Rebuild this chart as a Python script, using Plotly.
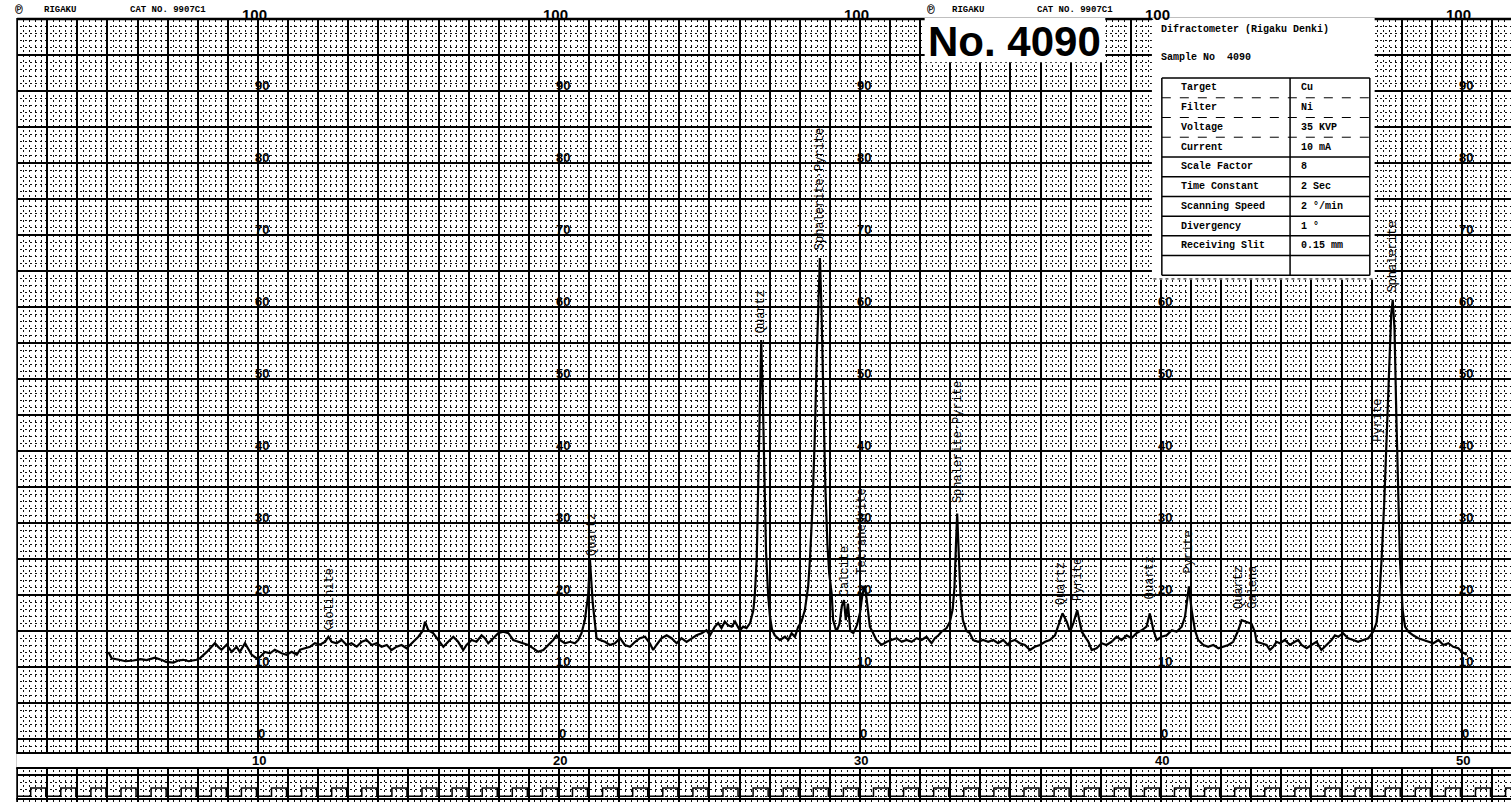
import plotly.graph_objects as go

# ---- trace: 2-theta (deg, Cu K-alpha) and intensity (chart units) ----
two_theta = [
    5.03, 5.14, 5.42, 5.6, 5.86, 6.1, 6.30, 6.58, 6.85, 6.95, 7.19, 7.35, 7.52, 7.7, 7.96,
    8.07, 8.30, 8.57, 8.68, 8.79, 8.96, 9.13, 9.29, 9.40, 9.57, 9.68, 9.79, 9.96,
    10.07, 10.23, 10.40, 10.56, 10.79, 10.95, 11.12, 11.29, 11.40, 11.56, 11.73, 11.89,
    12.06, 12.23, 12.34, 12.45, 12.61, 12.78, 12.95, 13.11, 13.28, 13.45, 13.61, 13.78,
    13.94, 14.11, 14.28, 14.44, 14.61, 14.77, 14.94,
    15.16, 15.33, 15.49, 15.55, 15.66, 15.82, 15.99, 16.16, 16.32, 16.49, 16.65, 16.82,
    16.93, 17.10, 17.26, 17.43, 17.54, 17.65, 17.82, 17.98, 18.15, 18.32, 18.48, 18.65,
    18.81, 18.98, 19.15, 19.31, 19.48, 19.65, 19.81, 19.92, 20.03, 20.20, 20.37, 20.53,
    20.64, 20.75, 20.86, 20.97, 21.03, 21.12, 21.19, 21.25, 21.36, 21.53, 21.69, 21.86,
    22.03, 22.19, 22.36, 22.53, 22.69, 22.86, 23.02, 23.13, 23.24, 23.41, 23.58, 23.74,
    23.91, 24.07, 24.24, 24.41, 24.57, 24.74, 24.90,
    25.02, 25.18, 25.29, 25.40, 25.51, 25.62, 25.74, 25.85, 26.01, 26.12, 26.23, 26.35,
    26.46, 26.51, 26.57, 26.62, 26.67, 26.72, 26.77, 26.82, 26.88, 26.95, 27.01, 27.08,
    27.17, 27.34, 27.51, 27.62, 27.73, 27.84, 27.95, 28.06, 28.17, 28.28, 28.34, 28.42,
    28.50, 28.57, 28.63, 28.67, 28.72, 28.78, 28.85, 28.92, 28.98, 29.06, 29.11, 29.22,
    29.32, 29.40, 29.47, 29.53, 29.60, 29.68, 29.78, 29.90, 30.00, 30.08, 30.15, 30.22,
    30.28, 30.33, 30.44, 30.55, 30.72, 30.89, 31.05, 31.22, 31.39, 31.55, 31.72, 31.88,
    32.05, 32.21, 32.38, 32.49, 32.61, 32.71, 32.88, 32.99, 33.08, 33.14, 33.19, 33.23,
    33.28, 33.34, 33.42, 33.54, 33.65, 33.76, 33.93, 34.09, 34.26, 34.43, 34.59, 34.76,
    34.92,
    34.98, 35.15, 35.31, 35.48, 35.65, 35.81, 35.98, 36.15, 36.31, 36.48, 36.64, 36.73,
    36.87, 36.98, 37.09, 37.22, 37.37, 37.48, 37.59, 37.70, 37.86, 38.03, 38.19, 38.36,
    38.53, 38.69, 38.86, 39.02, 39.19, 39.36, 39.52, 39.63, 39.75, 39.86, 40.02, 40.19,
    40.36, 40.52, 40.69, 40.80, 40.88, 40.93, 41.02, 41.13, 41.24, 41.41, 41.57, 41.74,
    41.91, 42.07, 42.24, 42.40, 42.57, 42.68, 42.84, 43.01, 43.12, 43.18,
    43.34, 43.51, 43.62, 43.73, 43.84, 43.95, 44.12, 44.28, 44.45, 44.56, 44.67, 44.84,
    45.00, 45.17, 45.33, 45.50, 45.67, 45.78, 45.89, 46.05, 46.22, 46.39, 46.55, 46.72,
    46.89, 47.05, 47.16, 47.25, 47.33, 47.42, 47.50, 47.58, 47.65, 47.70, 47.76, 47.82,
    47.88, 47.94, 48.03, 48.11, 48.22, 48.38, 48.55, 48.72, 48.88, 49.05, 49.22, 49.38,
    49.55, 49.71, 49.88, 49.99, 50.08, 50.16,
]
intensity = [
    12.1, 11.2, 10.97, 10.8, 10.9, 11.1, 10.97, 11.3, 10.9, 10.7, 10.6, 10.9, 11.0, 10.8, 11.0,
    11.2, 12.1, 13.3, 12.8, 12.4, 13.1, 12.1, 12.8, 12.1, 13.3, 12.4, 11.7, 11.2,
    11.4, 12.1, 11.9, 12.4, 11.9, 11.7, 12.1, 11.7, 12.4, 12.6, 12.8, 13.3,
    13.1, 13.5, 14.2, 13.5, 13.3, 13.75, 13.06, 13.29, 12.82, 13.52, 13.75, 13.06,
    13.29, 12.82, 13.06, 12.36, 12.82, 13.06, 12.6,
    13.5, 14.2, 15.1, 16.3, 15.1, 14.7, 13.75, 12.8, 13.5, 14.2, 13.5, 12.36,
    13.06, 13.75, 13.5, 14.4, 14.0, 13.3, 14.0, 14.7, 14.9, 14.7, 13.75, 13.5,
    13.3, 13.06, 12.6, 12.1, 12.36, 13.06, 13.75, 14.4, 13.75, 13.3, 13.5, 13.3,
    13.75, 14.7, 16.5, 20.0, 24.9, 19.0, 16.0, 14.0, 13.75, 13.5, 13.06, 13.3,
    14.0, 13.06, 12.8, 13.5, 14.0, 14.2, 13.3, 12.36, 13.06, 14.0, 14.4, 14.0,
    13.3, 14.0, 13.5, 14.0, 14.4, 14.7, 15.1,
    14.4, 15.6, 16.1, 15.4, 16.3, 15.8, 15.6, 16.3, 15.1, 15.6, 15.4, 16.1,
    17.9, 20.2, 25.0, 34.0, 46.0, 55.4, 48.0, 36.0, 26.0, 20.0, 17.0, 15.2,
    14.4, 13.75, 14.2, 13.75, 14.7, 14.2, 15.6, 16.3, 17.9, 21.2, 25.0, 32.0,
    42.0, 54.0, 64.0, 66.8, 60.0, 46.0, 35.0, 27.0, 23.0, 20.2, 16.5, 14.9,
    16.0, 18.5, 19.3, 16.5, 18.8, 15.0, 14.7, 15.8, 17.5, 20.0, 21.3, 19.5,
    17.0, 15.6, 14.7, 13.75, 13.06, 13.5, 13.75, 14.0, 13.5, 13.75, 13.5, 14.0,
    13.75, 14.2, 13.3, 14.0, 14.4, 14.9, 15.4, 16.3, 18.0, 21.0, 27.0, 31.3,
    26.0, 20.0, 16.5, 15.0, 14.7, 13.75, 13.5, 13.75, 13.5, 13.75, 13.3, 13.75,
    13.06,
    13.5, 13.75, 13.3, 13.06, 12.36, 12.8, 13.06, 13.5, 13.75, 14.4, 16.3, 17.45,
    16.3, 14.9, 16.1, 17.9, 14.9, 14.2, 13.5, 12.36, 12.6, 13.3, 13.06, 13.5,
    14.2, 13.75, 14.4, 14.0, 14.7, 15.1, 15.6, 17.45, 15.1, 13.75, 14.2, 14.4,
    15.1, 14.9, 15.6, 17.0, 19.3, 21.2, 17.9, 15.1, 13.75, 13.06, 12.8, 13.06,
    12.6, 12.8, 13.06, 13.5, 15.1, 16.5, 16.3, 16.0, 14.9, 13.5,
    13.3, 13.06, 12.36, 12.8, 13.5, 13.3, 13.75, 13.06, 13.5, 13.75, 13.06, 12.6,
    13.06, 13.5, 12.36, 13.06, 13.75, 14.4, 14.2, 14.7, 14.0, 13.75, 13.5, 13.75,
    14.0, 14.9, 16.1, 19.3, 24.9, 33.0, 43.0, 53.0, 59.0, 61.0, 57.0, 45.0,
    33.0, 24.9, 17.9, 15.6, 14.9, 14.4, 14.0, 13.75, 13.5, 13.3, 13.75, 13.06,
    13.3, 12.8, 12.6, 12.1, 11.9, 11.7,
]

# ---- peak identifications written on the chart ----
label_text = ["Kaolinite", "Quartz", "Quartz", "Sphalerite·Pyrite", "Calcite", "Tetrahedrite",
              "Sphalerite·Pyrite", "Quartz", "Pyrite", "Quartz", "Pyrite", "Quartz", "Galena",
              "Pyrite", "Sphalerite"]
label_x = [12.39, 21.08, 26.72, 28.66, 29.50, 30.07, 33.24, 36.70, 37.24, 39.62, 40.90,
           42.60, 43.06, 47.20, 47.71]
label_y = [19.3, 28.4, 59.3, 76.3, 23.3, 28.8, 41.3, 21.6, 22.2, 22.4, 25.9, 21.0, 21.0,
           44.3, 67.0]

# ---- chart-paper printing ----
scale_columns = [10, 20, 30, 40, 50]
scale_values = [0, 10, 20, 30, 40, 50, 60, 70, 80, 90]
top_value = "100"
angle_labels = ["10", "20", "30", "40", "50"]
header_left = ["℗", "RIGAKU", "CAT NO. 9907C1"]
header_left_x = [2.05, 3.42, 7.01]
header_right_x = [32.36, 33.59, 37.14]

# ---- instrument card ----
table_params = ["Target", "Filter", "Voltage", "Current", "Scale Factor", "Time Constant",
                "Scanning Speed", "Divergency", "Receiving Slit", ""]
table_values = ["Cu", "Ni", "35 KVP", "10 mA", "8", "2 Sec", "2 °/min", "1 °", "0.15 mm", ""]
card_title = "Difractometer (Rigaku Denki)"
card_sample = "Sample No  4090"
sample_tag = "No. 4090"

X0, X1 = 1.43, 51.63
Y0, Y1 = -8.75, 102.64

fig = go.Figure()

fig.add_trace(go.Scatter(x=two_theta, y=intensity, mode="lines",
                         line=dict(color="black", width=2.2), hoverinfo="skip"))

shapes = []
# white margins of the paper
shapes.append(dict(type="rect", xref="x", yref="y", x0=X0, x1=X1, y0=100.15, y1=Y1,
                   fillcolor="white", line=dict(width=0), layer="above"))
shapes.append(dict(type="rect", xref="x", yref="y", x0=X0, x1=1.97, y0=Y0, y1=Y1,
                   fillcolor="white", line=dict(width=0), layer="above"))
# bottom strip
shapes.append(dict(type="rect", xref="x", yref="y", x0=1.97, x1=X1, y0=-4.03, y1=-1.94,
                   fillcolor="white", line=dict(width=0), layer="above"))
for yy in (-1.94, -4.03, -8.35):
    shapes.append(dict(type="line", xref="x", yref="y", x0=1.97, x1=X1, y0=yy, y1=yy,
                       line=dict(color="black", width=2), layer="above"))
shapes.append(dict(type="line", xref="x", yref="y", x0=2.0, x1=X1, y0=100.0, y1=100.0,
                   line=dict(color="black", width=2.5), layer="above"))

# sample number box
shapes.append(dict(type="rect", xref="x", yref="y", x0=32.15, x1=38.15, y0=94.0, y1=100.15,
                   fillcolor="white", line=dict(width=0), layer="above"))
# instrument card
tx0, txd, tx1 = 40.03, 44.29, 46.94
ty_top, row_h = 91.8, 2.74
shapes.append(dict(type="rect", xref="x", yref="y", x0=39.7, x1=47.1, y0=63.8, y1=100.15,
                   fillcolor="white", line=dict(width=0), layer="above"))
n_rows = len(table_params)
ty_bot = ty_top - row_h * n_rows
for xx in (tx0, txd, tx1):
    shapes.append(dict(type="line", xref="x", yref="y", x0=xx, x1=xx, y0=ty_bot, y1=ty_top,
                       line=dict(color="black", width=1.5), layer="above"))
for i in range(n_rows + 1):
    yy = ty_top - row_h * i
    solid = (i == 0 or i >= 4)
    shapes.append(dict(type="line", xref="x", yref="y", x0=tx0, x1=tx1, y0=yy, y1=yy,
                       line=dict(color="black", width=1.5 if solid else 1,
                                 dash="solid" if solid else "dash"),
                       layer="above"))
shapes.append(dict(type="line", xref="x", yref="y", x0=39.75, x1=47.05, y0=63.9, y1=63.9,
                   line=dict(color="black", width=1, dash="dot"), layer="above"))

# major vertical rulings through the bottom white strip + timing square wave
strip_x, strip_y = [], []
wave_x, wave_y = [], []
for d in range(2, 52):
    strip_x += [d, d, None]
    strip_y += [-1.94, -4.03, None]
    wave_x += [d, d + 0.45, d + 0.45, d + 0.95, d + 0.95]
    wave_y += [-7.95, -7.95, -6.8, -6.8, -7.95]
fig.add_trace(go.Scatter(x=strip_x, y=strip_y, mode="lines",
                         line=dict(color="black", width=2), hoverinfo="skip"))
fig.add_trace(go.Scatter(x=wave_x, y=wave_y, mode="lines",
                         line=dict(color="black", width=1.5), hoverinfo="skip"))

ann = []
mono = "Liberation Mono"
for t, x, y in zip(label_text, label_x, label_y):
    ann.append(dict(x=x, y=y, xref="x", yref="y", text=t, showarrow=False, textangle=-90,
                    font=dict(family=mono, size=12, color="black"),
                    xanchor="center", yanchor="middle"))

num_font = dict(family="Liberation Sans", size=13, color="black")
for c in scale_columns:
    for v in scale_values:
        if c == 40 and v >= 70:
            continue
        ann.append(dict(x=c + 0.12, y=v + 0.7, xref="x", yref="y", text=f"<b>{v}</b>",
                        showarrow=False, font=num_font, xanchor="center", yanchor="middle"))
    ann.append(dict(x=c - 0.1, y=100.6, xref="x", yref="y", text=f"<b>{top_value}</b>",
                    showarrow=False, font=dict(family="Liberation Sans", size=15, color="black"),
                    xanchor="center", yanchor="middle"))
for c, t in zip(scale_columns, angle_labels):
    ann.append(dict(x=c + 0.05, y=-3.0, xref="x", yref="y", text=f"<b>{t}</b>",
                    showarrow=False, font=num_font, xanchor="center", yanchor="middle"))

for xs in (header_left_x, header_right_x):
    for t, x in zip(header_left, xs):
        ann.append(dict(x=x, y=101.2, xref="x", yref="y", text=f"<b>{t}</b>",
                        showarrow=False, font=dict(family=mono, size=13 if t == "℗" else 9,
                                                   color="black"),
                        xanchor="center", yanchor="middle"))

ann.append(dict(x=35.15, y=96.9, xref="x", yref="y", text=f"<b>{sample_tag}</b>",
                showarrow=False, font=dict(family="Liberation Sans", size=42, color="black"),
                xanchor="center", yanchor="middle"))

card_font = dict(family=mono, size=10, color="black")
ann.append(dict(x=39.95, y=98.5, xref="x", yref="y", text=f"<b>{card_title}</b>",
                showarrow=False, font=card_font, xanchor="left", yanchor="middle"))
ann.append(dict(x=39.95, y=94.7, xref="x", yref="y", text=f"<b>{card_sample}</b>",
                showarrow=False, font=card_font, xanchor="left", yanchor="middle"))
for i, (p, v) in enumerate(zip(table_params, table_values)):
    yc = ty_top - row_h * (i + 0.5)
    if p:
        ann.append(dict(x=40.6, y=yc, xref="x", yref="y", text=f"<b>{p}</b>",
                        showarrow=False, font=card_font, xanchor="left", yanchor="middle"))
    if v:
        ann.append(dict(x=44.6, y=yc, xref="x", yref="y", text=f"<b>{v}</b>",
                        showarrow=False, font=card_font, xanchor="left", yanchor="middle"))

fig.update_layout(
    width=1511, height=802,
    margin=dict(l=0, r=0, t=0, b=0),
    paper_bgcolor="white", plot_bgcolor="white",
    showlegend=False,
    shapes=shapes,
    annotations=ann,
    xaxis=dict(range=[X0, X1], showticklabels=False, ticks="", zeroline=False,
               showline=False, showgrid=True, dtick=1, tick0=0,
               gridcolor="black", gridwidth=2,
               minor=dict(dtick=0.2, tick0=0, showgrid=True, gridcolor="#111111",
                          griddash="2px,3px", gridwidth=1)),
    yaxis=dict(range=[Y0, Y1], showticklabels=False, ticks="", zeroline=False,
               showline=False, showgrid=True, dtick=5, tick0=0,
               gridcolor="black", gridwidth=2,
               minor=dict(dtick=1, tick0=0, showgrid=True, gridcolor="#111111",
                          griddash="2px,3px", gridwidth=1)),
)

fig.write_html("out.html", config={"displayModeBar": False},
               post_script="document.body.style.margin='0';")
